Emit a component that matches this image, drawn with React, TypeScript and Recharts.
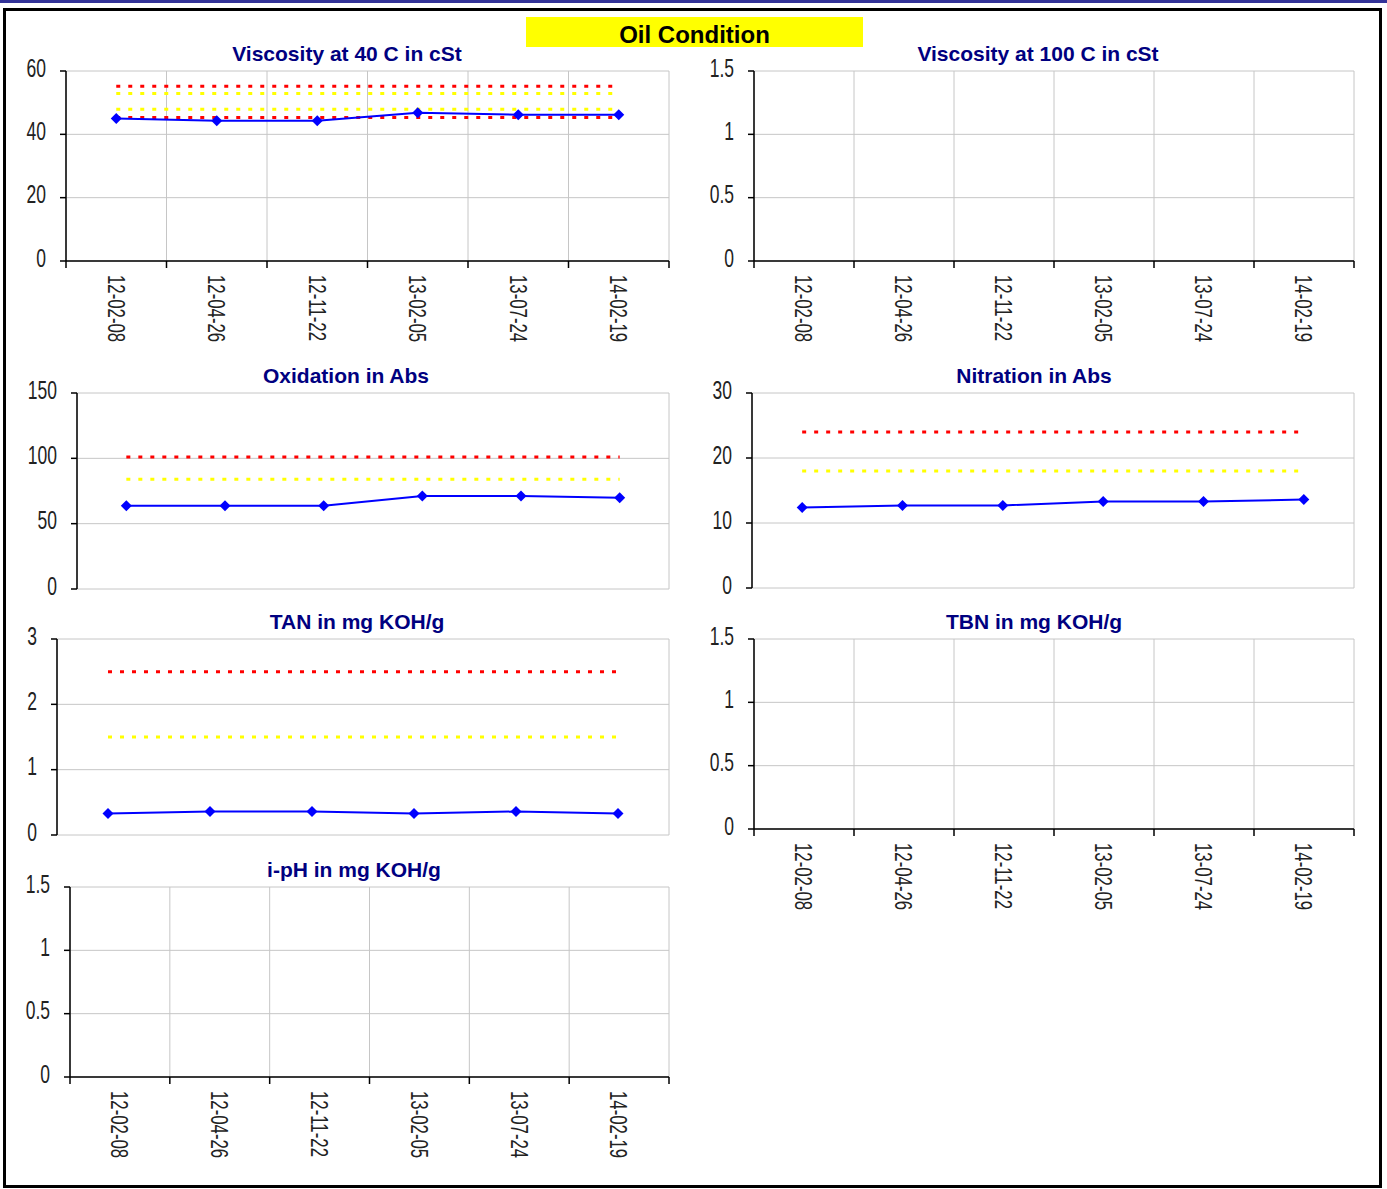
import React from 'react';
import { LineChart, Line, XAxis, YAxis, CartesianGrid } from 'recharts';

// sample dates (shared by every panel)
const dates = ['12-02-08', '12-04-26', '12-11-22', '13-02-05', '13-07-24', '14-02-19'];

// Viscosity at 40 C
const visc40 = [45.0, 44.3, 44.3, 46.8, 46.2, 46.2];
const visc40RedHigh = [55.2, 55.2, 55.2, 55.2, 55.2, 55.2];
const visc40YellowHigh = [52.9, 52.9, 52.9, 52.9, 52.9, 52.9];
const visc40YellowLow = [47.9, 47.9, 47.9, 47.9, 47.9, 47.9];
const visc40RedLow = [45.3, 45.3, 45.3, 45.3, 45.3, 45.3];

// Viscosity at 100 C, TBN, i-pH: no results
const visc100 = [null, null, null, null, null, null];
const tbn = [null, null, null, null, null, null];
const iph = [null, null, null, null, null, null];

// Oxidation
const oxidation = [63.7, 63.7, 63.7, 71.2, 71.2, 69.8];
const oxidationRed = [101, 101, 101, 101, 101, 101];
const oxidationYellow = [84, 84, 84, 84, 84, 84];

// Nitration
const nitration = [12.4, 12.7, 12.7, 13.3, 13.3, 13.6];
const nitrationRed = [24, 24, 24, 24, 24, 24];
const nitrationYellow = [18, 18, 18, 18, 18, 18];

// TAN
const tan = [0.33, 0.36, 0.36, 0.33, 0.36, 0.33];
const tanRed = [2.5, 2.5, 2.5, 2.5, 2.5, 2.5];
const tanYellow = [1.5, 1.5, 1.5, 1.5, 1.5, 1.5];

const ticks60 = [0, 20, 40, 60];
const ticks150 = [0, 50, 100, 150];
const ticks30 = [0, 10, 20, 30];
const ticks3 = [0, 1, 2, 3];
const ticks15 = [0, 0.5, 1, 1.5];

const xTicks = [0, 1, 2, 3, 4, 5, 6];

const TICK_FONT = "'Liberation Sans', Arial, sans-serif";
const GRID = '#c6c6c6';
const Y_W = 60;
const PAD = 16;

type Panel = {
  title: string;
  titleX: number;
  titleY: number;
  left: number;
  top: number;
  w: number;
  h: number;
  yTicks: number[];
  showDates: boolean;
  values: (number | null)[];
  reds?: number[][];
  yellows?: number[][];
};

const Diamond = (props: any) => {
  const { cx, cy, value } = props;
  if (cx == null || cy == null || value == null) return null;
  return <polygon points={`${cx},${cy - 5.5} ${cx + 5.5},${cy} ${cx},${cy + 5.5} ${cx - 5.5},${cy}`} fill="#0000ff" />;
};

const YTick = (props: any) => {
  const { x, y, payload } = props;
  return (
    <text
      transform={`translate(${x - 12},${y - 3}) scale(0.7,1)`}
      textAnchor="end"
      dominantBaseline="central"
      fontFamily={TICK_FONT}
      fontSize={25}
      fill="#222"
    >
      {payload.value}
    </text>
  );
};

const makeXTick = (band: number) => (props: any) => {
  const { x, y, payload } = props;
  const label = dates[payload.value];
  if (!label) return null;
  return (
    <text
      transform={`translate(${x + band / 2},${y + 5}) rotate(90) scale(0.7,1)`}
      textAnchor="start"
      dominantBaseline="central"
      fontFamily={TICK_FONT}
      fontSize={24}
      fill="#222"
    >
      {label}
    </text>
  );
};

const panels: Panel[] = [
  {
    title: 'Viscosity at 40 C in cSt', titleX: 347, titleY: 54,
    left: 66, top: 71, w: 603, h: 190, yTicks: ticks60, showDates: true,
    values: visc40, reds: [visc40RedHigh, visc40RedLow], yellows: [visc40YellowHigh, visc40YellowLow],
  },
  {
    title: 'Viscosity at 100 C in cSt', titleX: 1038, titleY: 54,
    left: 754, top: 71, w: 600, h: 190, yTicks: ticks15, showDates: true,
    values: visc100,
  },
  {
    title: 'Oxidation in Abs', titleX: 346, titleY: 376,
    left: 77, top: 393, w: 592, h: 196, yTicks: ticks150, showDates: false,
    values: oxidation, reds: [oxidationRed], yellows: [oxidationYellow],
  },
  {
    title: 'Nitration in Abs', titleX: 1034, titleY: 376,
    left: 752, top: 393, w: 602, h: 195, yTicks: ticks30, showDates: false,
    values: nitration, reds: [nitrationRed], yellows: [nitrationYellow],
  },
  {
    title: 'TAN in mg KOH/g', titleX: 357, titleY: 622,
    left: 57, top: 639, w: 612, h: 196, yTicks: ticks3, showDates: false,
    values: tan, reds: [tanRed], yellows: [tanYellow],
  },
  {
    title: 'TBN in mg KOH/g', titleX: 1034, titleY: 622,
    left: 754, top: 639, w: 600, h: 190, yTicks: ticks15, showDates: true,
    values: tbn,
  },
  {
    title: 'i-pH in mg KOH/g', titleX: 354, titleY: 870,
    left: 70, top: 887, w: 599, h: 190, yTicks: ticks15, showDates: true,
    values: iph,
  },
];

const ChartPanel = ({ p }: { p: Panel }) => {
  const rows = dates.map((d, i) => {
    const row: any = { x: i + 0.5, date: d, value: p.values[i] };
    (p.reds || []).forEach((s, k) => (row['red' + k] = s[i]));
    (p.yellows || []).forEach((s, k) => (row['yellow' + k] = s[i]));
    return row;
  });
  const xH = p.showDates ? 95 : 2;
  const bottom = p.showDates ? 0 : PAD;
  const yMax = p.yTicks[p.yTicks.length - 1];

  return (
    <>
      <div
        style={{
          position: 'absolute', left: p.titleX, top: p.titleY, transform: 'translate(-50%, -50%)',
          whiteSpace: 'nowrap', fontFamily: "'Liberation Sans', Arial, sans-serif", fontWeight: 'bold',
          fontSize: 21, color: '#000080',
        }}
      >
        {p.title}
      </div>
      <div style={{ position: 'absolute', left: p.left - Y_W, top: p.top - PAD }}>
        <LineChart
          width={Y_W + p.w + 8}
          height={PAD + p.h + xH + bottom}
          data={rows}
          margin={{ top: PAD, right: 8, left: 0, bottom }}
        >
          <CartesianGrid stroke={GRID} strokeWidth={1} />
          <XAxis
            type="number"
            dataKey="x"
            domain={[0, 6]}
            ticks={xTicks}
            interval={0}
            height={xH}
            axisLine={p.showDates ? { stroke: '#000', strokeWidth: 1.5 } : false}
            tickLine={p.showDates ? { stroke: '#000', strokeWidth: 1.5 } : false}
            tickSize={7}
            tick={p.showDates ? makeXTick(p.w / 6) : false}
          />
          <YAxis
            width={Y_W}
            type="number"
            domain={[0, yMax]}
            ticks={p.yTicks}
            interval={0}
            allowDataOverflow
            axisLine={{ stroke: '#000', strokeWidth: 1.5 }}
            tickLine={{ stroke: '#000', strokeWidth: 1.5 }}
            tickSize={6}
            tick={<YTick />}
          />
          {(p.reds || []).map((_, k) => (
            <Line
              key={'r' + k}
              dataKey={'red' + k}
              stroke="#ff0000"
              strokeWidth={3}
              strokeDasharray="4 8"
              dot={false}
              activeDot={false}
              isAnimationActive={false}
            />
          ))}
          {(p.yellows || []).map((_, k) => (
            <Line
              key={'y' + k}
              dataKey={'yellow' + k}
              stroke="#ffff00"
              strokeWidth={3}
              strokeDasharray="4 8"
              dot={false}
              activeDot={false}
              isAnimationActive={false}
            />
          ))}
          <Line
            dataKey="value"
            stroke="#0000ff"
            strokeWidth={2}
            dot={<Diamond />}
            activeDot={false}
            isAnimationActive={false}
          />
        </LineChart>
      </div>
    </>
  );
};

export default function App() {
  return (
    <div style={{ position: 'absolute', left: 0, top: 0, width: 1387, height: 1189, background: '#fff', overflow: 'hidden' }}>
      <div style={{ position: 'absolute', left: 0, top: 0, width: 1387, height: 3, background: '#333399' }} />
      <div
        style={{
          position: 'absolute', left: 3, top: 8, width: 1379, height: 1180,
          border: '3px solid #000', boxSizing: 'border-box',
        }}
      />
      <div
        style={{
          position: 'absolute', left: 526, top: 17, width: 337, height: 30, background: '#ffff00',
          boxSizing: 'border-box', paddingTop: 5,
          display: 'flex', alignItems: 'center', justifyContent: 'center',
          fontFamily: "'Liberation Sans', Arial, sans-serif", fontWeight: 'bold', fontSize: 24, color: '#000',
        }}
      >
        Oil Condition
      </div>
      {panels.map((p) => (
        <ChartPanel key={p.title} p={p} />
      ))}
    </div>
  );
}
